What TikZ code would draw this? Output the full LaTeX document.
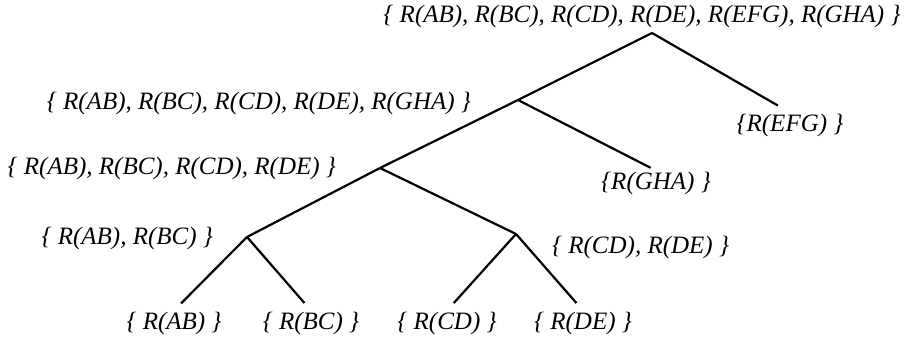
\documentclass[tikz,border=0pt]{standalone}
\usepackage{fontspec}
\setmainfont{Liberation Serif}
\usepackage{tikz}

\begin{document}
\begin{tikzpicture}[x=0.5pt, y=-0.5pt, line width=1.1pt,
	lbl/.style={inner sep=0pt, font=\fontsize{12.5}{14}\selectfont\itshape}]

\def\gap{5pt}

\useasboundingbox (0,0) rectangle (908,341);

% junctions of the tree
\coordinate (r)  at (652,33);
\coordinate (n1) at (518,100);
\coordinate (n2) at (380,168);
\coordinate (n3) at (247,237);
\coordinate (n4) at (516,234);

% sets at the junctions
\node[lbl] (rset) at (642,16) {\{ R(AB), R(BC), R(CD), R(DE), R(EFG), R(GHA) \}};
\node[lbl, anchor=east] (n1set) at (472,103) {\{ R(AB), R(BC), R(CD), R(DE), R(GHA) \}};
\node[lbl, anchor=east] (n2set) at (337,168) {\{ R(AB), R(BC), R(CD), R(DE) \}};
\node[lbl, anchor=east] (n3set) at (214,238) {\{ R(AB), R(BC) \}};
\node[lbl, anchor=west] (n4set) at (551,247) {\{ R(CD), R(DE) \}};

% leaves
\node[lbl] (efg) at (790,125) {\{R(EFG) \}};
\node[lbl] (gha) at (656,183) {\{R(GHA) \}};
\node[lbl] (ab) at (174,323) {\{ R(AB) \}};
\node[lbl] (bc) at (311,323) {\{ R(BC) \}};
\node[lbl] (cd) at (447,323) {\{ R(CD) \}};
\node[lbl] (de) at (583,323) {\{ R(DE) \}};

\foreach \a/\b in {r/n1, n1/n2, n2/n3, n2/n4}
	\draw (\a) -- (\b);

\draw[shorten >=7pt] (r) -- (efg.north);
\draw[shorten >=3pt] (n1) -- (gha.north);
\foreach \a/\b in {n3/ab, n3/bc, n4/cd, n4/de}
	\draw[shorten >=\gap] (\a) -- (\b.north);

\end{tikzpicture}
\end{document}
